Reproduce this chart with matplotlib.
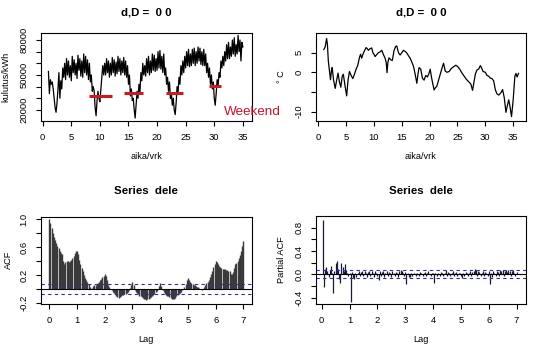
import matplotlib
matplotlib.use('Agg')
import matplotlib.pyplot as plt
import numpy as np

plt.rcParams['font.family'] = ['Liberation Sans', 'DejaVu Sans']

# ---------------- data ----------------
# hourly-ish electricity consumption (thousands of kWh), 6 samples per day starting day 1
cons_k = [
    53, 34, 46, 42, 44, 38,
    30, 22, 18, 26, 38, 52,
    30, 45, 38, 56, 48, 60,
    46, 64, 50, 62, 48, 58,
    45, 66, 52, 63, 50, 60,
    47, 67, 54, 64, 49, 62,
    48, 68, 52, 66, 50, 63,
    46, 60, 44, 50, 36, 40,
    36, 22, 15, 28, 36, 30,
    27, 38, 48, 58, 50, 60,
    50, 64, 52, 62, 48, 60,
    50, 65, 52, 63, 49, 61,
    51, 66, 53, 64, 50, 62,
    52, 65, 50, 62, 48, 58,
    42, 50, 32, 38, 28, 30,
    20, 13, 24, 36, 30, 42,
    35, 52, 45, 60, 50, 58,
    49, 64, 52, 66, 50, 62,
    52, 68, 54, 67, 53, 64,
    54, 70, 56, 71, 55, 66,
    52, 68, 50, 56, 42, 48,
    36, 44, 30, 34, 24, 30,
    20, 16, 26, 40, 35, 48,
    42, 58, 50, 62, 52, 66,
    56, 70, 58, 72, 57, 68,
    58, 72, 60, 73, 58, 70,
    60, 74, 62, 73, 59, 70,
    58, 72, 58, 68, 52, 60,
    48, 56, 42, 50, 38, 44,
    30, 24, 34, 46, 40, 52,
    48, 62, 56, 66, 58, 70,
    62, 76, 64, 78, 64, 74,
    66, 80, 68, 82, 66, 76,
    68, 84, 70, 80, 62, 78,
    74,
]
samples_per_day = 6
first_day = 1.0

weekend_start = [8.13, 14.3, 21.5, 29.0]
weekend_end = [12.15, 17.56, 24.6, 31.2]
weekend_level = [31700, 34600, 34600, 40800]

temp_days = [1.0, 1.25, 1.5, 1.65, 1.8, 2.0, 2.2, 2.4, 2.5, 2.75, 3.05, 3.3, 3.55, 3.8, 4.05,
             4.3, 4.5, 4.8, 5.1, 5.35, 5.6, 5.9, 6.2, 6.5, 6.8, 7.1, 7.4, 7.6, 7.8, 8.0, 8.3,
             8.6, 8.8, 9.0, 9.3, 9.6, 9.8, 10.0, 10.2, 10.5, 10.8, 11.1, 11.4, 11.7, 12.0,
             12.2, 12.35, 12.5, 12.7, 13.0, 13.3, 13.6, 13.9, 14.1, 14.4, 14.7, 15.0, 15.3,
             15.6, 15.9, 16.2, 16.5, 16.8, 17.1, 17.4, 17.7, 17.9, 18.1, 18.4, 18.7, 19.0,
             19.3, 19.6, 19.9, 20.1, 20.3, 20.5, 20.8, 21.0, 21.3, 21.6, 21.9, 22.2, 22.5,
             22.8, 23.1, 23.5, 23.9, 24.3, 24.7, 25.0, 25.4, 25.8, 26.2, 26.6, 27.0, 27.4,
             27.7, 27.9, 28.2, 28.5, 28.8, 29.1, 29.3, 29.6, 30.0, 30.3, 30.6, 30.9, 31.2,
             31.5, 31.8, 32.1, 32.4, 32.8, 33.1, 33.4, 33.7, 33.95, 34.2, 34.4, 34.7, 35.0,
             35.3, 35.5, 35.7, 35.95]
temp_vals = [5.8, 6.5, 8.6, 7.0, 3.0, 0.5, -1.9, 0.8, 1.2, -2.0, -4.1, -2.0, -0.2, -2.5, -3.8,
             -1.0, -0.5, -3.4, -6.0, -2.0, 0.2, -0.8, -1.6, -0.5, 0.8, 1.8, 3.8, 4.6, 3.6, 4.5, 5.5,
             6.3, 6.0, 5.6, 6.0, 6.2, 5.0, 4.6, 4.0, 4.5, 5.0, 5.2, 5.6, 4.5, 3.6,
             2.5, -0.1, 2.5, 3.7, 3.2, 3.0, 5.5, 6.6, 6.7, 5.0, 4.4, 5.0, 5.6,
             5.3, 4.9, 4.2, 3.6, 2.6, 1.5, -0.5, -2.8, -0.5, 1.2, 0.8, -1.5, -2.0,
             -0.8, -1.2, -0.2, 0.8, -1.0, -2.5, -4.5, -4.0, -3.5, -2.0, -0.5, 1.0, 2.3,
             0.3, 0.0, 0.2, 1.0, 1.4, 1.8, 1.5, 0.8, -0.2, -1.0, -1.8, -2.4, -3.0,
             -4.6, -3.0, -0.5, 0.6, 0.8, 1.7, 1.2, 0.2, 0.0, -0.8, -1.0, -1.5, -1.6,
             -2.2, -4.5, -5.5, -5.8, -5.2, -4.4, -6.5, -10.2, -8.5, -7.0, -8.5, -11.3, -7.0,
             -1.0, -0.3, -1.2, -0.3]

# ACF at hourly lags 0..168 (lag unit = days)
acf_vals = [
    1.00, 0.95, 0.87, 0.80, 0.74, 0.70, 0.66, 0.62, 0.58, 0.54, 0.52, 0.50,
    0.40, 0.36, 0.38, 0.40, 0.40, 0.39, 0.40, 0.42, 0.44, 0.47, 0.51, 0.54,
    0.55, 0.50, 0.42, 0.35, 0.30, 0.25, 0.20, 0.16, 0.13, 0.10, 0.07, 0.03,
    0.00, 0.01, 0.04, 0.06, 0.05, 0.07, 0.08, 0.10, 0.12, 0.14, 0.17, 0.19,
    0.21, 0.18, 0.12, 0.06, 0.02, 0.00, -0.02, -0.04, -0.06, -0.08, -0.10, -0.12,
    -0.13, -0.12, -0.10, -0.09, -0.09, -0.08, -0.07, -0.06, -0.04, -0.02, 0.01, 0.05,
    0.10, 0.05, -0.01, -0.04, -0.06, -0.08, -0.10, -0.11, -0.12, -0.13, -0.14, -0.15,
    -0.16, -0.15, -0.14, -0.13, -0.12, -0.11, -0.09, -0.07, -0.05, -0.03, 0.00, 0.04,
    0.09, 0.04, -0.02, -0.05, -0.07, -0.09, -0.10, -0.11, -0.12, -0.13, -0.14, -0.15,
    -0.15, -0.13, -0.11, -0.09, -0.07, -0.06, -0.04, -0.02, 0.00, 0.03, 0.07, 0.12,
    0.16, 0.13, 0.10, 0.08, 0.07, 0.06, 0.05, 0.04, 0.03, 0.02, 0.01, 0.00,
    -0.02, 0.00, 0.03, 0.06, 0.08, 0.10, 0.13, 0.17, 0.21, 0.26, 0.31, 0.36,
    0.40, 0.38, 0.35, 0.33, 0.31, 0.30, 0.29, 0.28, 0.28, 0.27, 0.27, 0.26,
    0.25, 0.22, 0.21, 0.24, 0.30, 0.35, 0.37, 0.40, 0.44, 0.49, 0.55, 0.62,
    0.69,
]
# PACF at hourly lags 1..168
pacf_vals = [
    0.93, -0.22, 0.10, 0.12, 0.05, -0.04, 0.08, 0.15, 0.03, -0.32, 0.06, 0.20,
    0.23, 0.10, -0.08, -0.14, 0.20, 0.12, 0.05, 0.17, 0.08, 0.03, -0.03, 0.02,
    -0.48, 0.04, -0.06, -0.08, 0.03, -0.04, 0.02, 0.05, -0.03, 0.04, 0.06, -0.02,
    0.05, 0.03, -0.05, 0.04, 0.06, -0.03, 0.05, 0.02, -0.04, 0.06, 0.03, -0.02,
    -0.10, 0.05, -0.03, 0.04, 0.06, -0.05, 0.03, 0.05, -0.02, 0.04, 0.03, -0.04,
    0.05, 0.02, -0.03, 0.04, 0.03, -0.05, 0.06, 0.07, 0.05, 0.02, -0.03, 0.04,
    -0.17, 0.03, -0.05, -0.04, 0.02, -0.03, 0.01, 0.02, -0.02, 0.03, 0.01, -0.03,
    0.04, 0.02, -0.02, 0.03, 0.04, -0.03, 0.02, 0.05, 0.01, -0.02, 0.03, 0.02,
    -0.14, 0.02, -0.03, 0.03, 0.01, -0.02, 0.04, 0.02, -0.03, 0.03, 0.08, -0.02,
    0.04, 0.02, -0.03, 0.03, 0.05, -0.02, 0.02, 0.04, -0.03, 0.03, 0.02, -0.02,
    -0.06, 0.03, -0.02, 0.04, 0.02, -0.03, 0.03, 0.05, -0.02, 0.04, 0.06, 0.10,
    0.07, -0.03, 0.05, 0.04, -0.02, 0.03, 0.06, -0.03, 0.04, 0.03, -0.02, 0.05,
    -0.16, 0.03, -0.04, 0.05, 0.02, -0.03, 0.06, 0.04, -0.02, 0.07, 0.05, 0.08,
    -0.03, 0.06, 0.07, 0.04, 0.08, 0.05, -0.02, 0.06, 0.07, 0.03, -0.02, 0.04,
]
lags_per_day = 24
conf_bound = 0.068

# ---------------- figure ----------------
W, H = 540, 352
fig = plt.figure(figsize=(W / 100, H / 100), dpi=100)

TICK_FS = 6.8
LAB_FS = 6.6
TITLE_FS = 8.2


def box(l, t, r, b):
    return [l / W, 1 - b / H, (r - l) / W, (b - t) / H]


def ftext(x, y, s, **kw):
    fig.text(x / W, 1 - y / H, s, **kw)


def style(ax):
    for sp in ax.spines.values():
        sp.set_linewidth(0.8)
        sp.set_color('black')
    ax.tick_params(direction='out', length=3.5, width=0.8, labelsize=TICK_FS, pad=5.5,
                   colors='black')
    ax.tick_params(axis='y', labelrotation=90)
    for lab in ax.get_yticklabels():
        lab.set_va('center')


def yticks(ax, ticks, labeled, fmt):
    ax.set_yticks(ticks)
    ax.set_yticklabels([fmt(t) if t in labeled else '' for t in ticks])


# Top-left: consumption
ax1 = fig.add_axes(box(41, 33, 252, 121))
cons = np.array(cons_k) * 1000
days = first_day + np.arange(len(cons)) / samples_per_day
ax1.plot(days, cons, color='black', lw=0.9)
for s, e, lv in zip(weekend_start, weekend_end, weekend_level):
    ax1.plot([s, e], [lv, lv], color='#cc1a24', lw=2.2, solid_capstyle='butt')
ax1.set_xlim(-0.3, 36.6)
ax1.set_ylim(10500, 86000)
ax1.set_xticks([0, 5, 10, 15, 20, 25, 30, 35])
yt1 = [20000, 30000, 40000, 50000, 60000, 70000, 80000]
yticks(ax1, yt1, [20000, 50000, 80000], lambda t: f'{t:d}')
style(ax1)

# Top-right: temperature
ax2 = fig.add_axes(box(315.7, 33, 526, 121))
ax2.plot(temp_days, temp_vals, color='black', lw=0.9)
ax2.set_xlim(-0.46, 37.3)
ax2.set_ylim(-12.4, 10.0)
ax2.set_xticks([0, 5, 10, 15, 20, 25, 30, 35])
yticks(ax2, [-10, -5, 0, 5], [-10, 0, 5], lambda t: f'{t:d}')
style(ax2)

# Bottom-left: ACF
ax3 = fig.add_axes(box(40.7, 216.7, 251.7, 303.7))
acf_lags = np.arange(len(acf_vals)) / lags_per_day
ax3.vlines(acf_lags, 0, acf_vals, color='#3a3a3a', lw=1.0)
ax3.axhline(0, color='black', lw=0.8)
for c in (conf_bound, -conf_bound):
    ax3.axhline(c, color='#2b2bb0', lw=0.8, ls=(0, (3, 3)))
ax3.set_xlim(-0.31, 7.3)
ax3.set_ylim(-0.214, 1.037)
ax3.set_xticks(range(8))
yt3 = [-0.2, 0.0, 0.2, 0.4, 0.6, 0.8, 1.0]
ax3.set_yticks(yt3)
ax3.set_yticklabels(['-0.2', '', '0.2', '', '0.6', '', '1.0'])
style(ax3)

# Bottom-right: PACF
ax4 = fig.add_axes(box(315.7, 216, 526, 303.7))
pacf_lags = np.arange(1, len(pacf_vals) + 1) / lags_per_day
ax4.vlines(pacf_lags, 0, pacf_vals, color='#1a1a3a', lw=0.9)
ax4.axhline(0, color='black', lw=0.8)
for c in (conf_bound, -conf_bound):
    ax4.axhline(c, color='#2b2bb0', lw=0.8, ls=(0, (3, 3)))
ax4.set_xlim(-0.215, 7.34)
ax4.set_ylim(-0.503, 1.0)
ax4.set_xticks(range(8))
yt4 = [-0.4, -0.2, 0.0, 0.2, 0.4, 0.6, 0.8]
ax4.set_yticks(yt4)
ax4.set_yticklabels(['-0.4', '', '0.0', '', '0.4', '', '0.8'])
style(ax4)

# Titles & labels
ftext(146.5, 12.7, 'd,D =  0 0', ha='center', va='center', fontsize=TITLE_FS, fontweight='bold')
ftext(421, 12.7, 'd,D =  0 0', ha='center', va='center', fontsize=TITLE_FS, fontweight='bold')
ftext(146, 191, 'Series  dele', ha='center', va='center', fontsize=TITLE_FS, fontweight='bold')
ftext(421, 191, 'Series  dele', ha='center', va='center', fontsize=TITLE_FS, fontweight='bold')

ftext(146.5, 156.7, 'aika/vrk', ha='center', va='center', fontsize=LAB_FS)
ftext(421, 156.7, 'aika/vrk', ha='center', va='center', fontsize=LAB_FS)
ftext(146, 340, 'Lag', ha='center', va='center', fontsize=LAB_FS)
ftext(421, 340, 'Lag', ha='center', va='center', fontsize=LAB_FS)

ftext(5.5, 77, 'kulutus/kWh', ha='center', va='center', rotation=90, fontsize=LAB_FS)
ftext(281.5, 77, '° C', ha='center', va='center', rotation=90, fontsize=LAB_FS)
ftext(8, 260, 'ACF', ha='center', va='center', rotation=90, fontsize=LAB_FS)
ftext(282, 260, 'Partial ACF', ha='center', va='center', rotation=90, fontsize=LAB_FS)

ftext(224, 112, 'Weekend', ha='left', va='center', fontsize=9.7, color='#c8102e')

fig.savefig('out.png', dpi=100)
